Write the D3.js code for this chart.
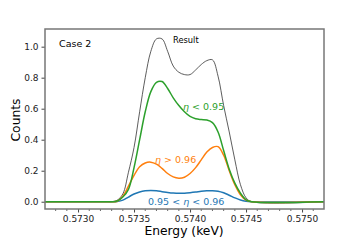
<!DOCTYPE html>
<html>
<head>
<meta charset="utf-8">
<script src="https://cdn.jsdelivr.net/npm/d3@7"></script>
<style>
  html, body { margin: 0; padding: 0; background: #fff; }
  text { font-family: 'DejaVu Sans', sans-serif; }
</style>
</head>
<body>
<div id="app"></div>
<script>
// energy grid (keV) and curves
const energy = [0.57270, 0.57325, 0.57330, 0.57335, 0.57340, 0.57345, 0.57350, 0.57355, 0.57360,
  0.57365, 0.57370, 0.57375, 0.57380, 0.57385, 0.57390, 0.57395, 0.57400, 0.57405, 0.57410,
  0.57415, 0.57420, 0.57425, 0.57430, 0.57435, 0.57440, 0.57445, 0.57450, 0.57455, 0.57520];

const result = [0, 0, 0, 0.01, 0.05, 0.19, 0.35, 0.58, 0.80, 0.97, 1.05, 1.05, 0.97, 0.875,
  0.835, 0.82, 0.82, 0.85, 0.885, 0.91, 0.915, 0.81, 0.62, 0.45, 0.27, 0.11, 0.025, 0, 0];
const etaLow = [0, 0, 0, 0.005, 0.03, 0.08, 0.22, 0.40, 0.58, 0.71, 0.77, 0.775, 0.73, 0.67,
  0.62, 0.58, 0.55, 0.535, 0.53, 0.527, 0.51, 0.45, 0.33, 0.21, 0.12, 0.055, 0.012, 0, 0];
const etaHigh = [0, 0, 0, 0.003, 0.035, 0.10, 0.17, 0.225, 0.25, 0.255, 0.242, 0.215, 0.182,
  0.16, 0.152, 0.158, 0.182, 0.22, 0.27, 0.32, 0.35, 0.355, 0.30, 0.20, 0.11, 0.045, 0.01, 0, 0];
const etaMid = [0, 0, 0, 0.002, 0.01, 0.03, 0.05, 0.063, 0.07, 0.072, 0.07, 0.065, 0.06, 0.056,
  0.054, 0.055, 0.058, 0.062, 0.067, 0.07, 0.071, 0.068, 0.058, 0.042, 0.025, 0.011, 0.003, 0, 0];

const xTicks = [0.5730, 0.5735, 0.5740, 0.5745, 0.5750];
const xMinor = [0.5728, 0.5729, 0.5731, 0.5732, 0.5733, 0.5734, 0.5736, 0.5737, 0.5738, 0.5739,
  0.5741, 0.5742, 0.5743, 0.5744, 0.5746, 0.5747, 0.5748, 0.5749, 0.5751];
const yTicks = [0.0, 0.2, 0.4, 0.6, 0.8, 1.0];

const series = [
  { name: 'Result', values: result, color: '#333333', width: 0.8 },
  { name: 'mid', values: etaMid, color: '#1f77b4', width: 1.5 },
  { name: 'high', values: etaHigh, color: '#ff7f0e', width: 1.5 },
  { name: 'low', values: etaLow, color: '#2ca02c', width: 1.5 }
];

const W = 360, H = 240;
const plot = { left: 45, right: 324, top: 29, bottom: 209 };

const svg = d3.select('#app').append('svg')
  .attr('width', W).attr('height', H);

svg.append('rect').attr('width', W).attr('height', H).attr('fill', '#fff');

const x = d3.scaleLinear().domain([0.572705, 0.575196]).range([plot.left, plot.right]);
const y = d3.scaleLinear().domain([-0.047, 1.114]).range([plot.bottom, plot.top]);

svg.append('clipPath').attr('id', 'clip')
  .append('rect')
  .attr('x', plot.left).attr('y', plot.top)
  .attr('width', plot.right - plot.left).attr('height', plot.bottom - plot.top);

const line = d3.line()
  .x((d) => x(d[0]))
  .y((d) => y(d[1]))
  .curve(d3.curveCatmullRom.alpha(0.5));

svg.append('g').attr('clip-path', 'url(#clip)')
  .selectAll('path')
  .data(series)
  .enter()
  .append('path')
  .attr('d', (s) => line(energy.map((e, i) => [e, s.values[i]])))
  .attr('fill', 'none')
  .attr('stroke', (s) => s.color)
  .attr('stroke-width', (s) => s.width)
  .attr('stroke-linejoin', 'round');

// axes
const xAxis = d3.axisBottom(x).tickValues(xTicks).tickFormat(d3.format('.4f'))
  .tickSize(3.5).tickPadding(3);
const gx = svg.append('g').attr('transform', `translate(0,${plot.bottom})`).call(xAxis);
gx.select('.domain').remove();
gx.selectAll('text').attr('font-size', 9).attr('fill', '#222').attr('font-family', 'DejaVu Sans');
gx.selectAll('line').attr('stroke', '#444');

svg.append('g').attr('transform', `translate(0,${plot.bottom})`)
  .selectAll('line').data(xMinor).enter().append('line')
  .attr('x1', (d) => x(d)).attr('x2', (d) => x(d))
  .attr('y1', 0).attr('y2', 2)
  .attr('stroke', '#444').attr('stroke-width', 0.8);

const yAxis = d3.axisLeft(y).tickValues(yTicks).tickFormat(d3.format('.1f'))
  .tickSize(3.5).tickPadding(3);
const gy = svg.append('g').attr('transform', `translate(${plot.left},0)`).call(yAxis);
gy.select('.domain').remove();
gy.selectAll('text').attr('font-size', 9).attr('fill', '#222').attr('font-family', 'DejaVu Sans');
gy.selectAll('line').attr('stroke', '#444');

// frame
svg.append('rect')
  .attr('x', plot.left).attr('y', plot.top)
  .attr('width', plot.right - plot.left).attr('height', plot.bottom - plot.top)
  .attr('fill', 'none').attr('stroke', '#777').attr('stroke-width', 1.5);

// axis titles
svg.append('text')
  .attr('x', 184).attr('y', 235)
  .attr('text-anchor', 'middle')
  .attr('font-size', 12.3).attr('fill', '#000')
  .text('Energy (keV)');

svg.append('text')
  .attr('transform', 'translate(20,120) rotate(-90)')
  .attr('text-anchor', 'middle')
  .attr('font-size', 12.3).attr('fill', '#000')
  .text('Counts');

// annotations
svg.append('text').attr('x', 59).attr('y', 47)
  .attr('font-size', 9.5).attr('fill', '#000').text('Case 2');

svg.append('text').attr('x', 173).attr('y', 43)
  .attr('font-size', 8.3).attr('fill', '#000').text('Result');

const eta = (xPos, yPos, color, parts) => {
  const el = svg.append('text').attr('x', xPos).attr('y', yPos)
    .attr('font-size', 9.5).attr('fill', color);
  parts.forEach((p) => {
    el.append('tspan')
      .attr('font-style', p.italic ? 'italic' : 'normal')
      .text(p.t);
  });
};

eta(183, 110, '#2ca02c', [{ t: 'η', italic: true }, { t: ' < 0.95' }]);
eta(155, 163, '#ff7f0e', [{ t: 'η', italic: true }, { t: ' > 0.96' }]);
eta(148, 205, '#1f77b4', [{ t: '0.95 < ' }, { t: 'η', italic: true }, { t: ' < 0.96' }]);
</script>
</body>
</html>
